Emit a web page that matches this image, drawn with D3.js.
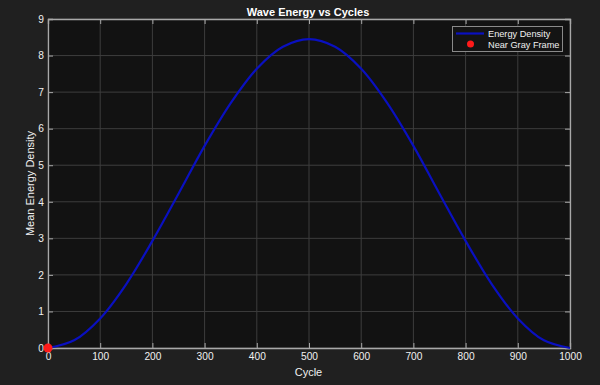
<!DOCTYPE html>
<html><head><meta charset="utf-8">
<script src="https://cdn.jsdelivr.net/npm/d3@7/dist/d3.min.js"></script>
<style>
html,body{margin:0;padding:0;background:#202020;}
svg{display:block;font-family:"Liberation Sans",Arial,Helvetica,sans-serif;}
</style></head>
<body>
<svg id="chart" width="600" height="385"></svg>
<script>
const cycles = [0,50,100,150,200,250,300,350,400,450,500,550,600,650,700,750,800,850,900,950,1000];
const energy = [0,0.21,0.81,1.75,2.93,4.22,5.53,6.70,7.64,8.24,8.45,8.24,7.64,6.70,5.53,4.22,2.93,1.75,0.81,0.21,0];
const xTicks = [0,100,200,300,400,500,600,700,800,900,1000];
const yTicks = [0,1,2,3,4,5,6,7,8,9];
const markerPoint = [{x:0,y:0}];

const svg = d3.select("#chart");
const m = {l:48, r:30, t:19, b:37};
const W = 600, H = 385;
const x = d3.scaleLinear().domain([0,1000]).range([m.l, W-m.r]);
const y = d3.scaleLinear().domain([0,9]).range([H-m.b, m.t]);

svg.append("rect").attr("width",W).attr("height",H).attr("fill","#202020");
svg.append("rect").attr("x",x(0)).attr("y",y(9)).attr("width",x(1000)-x(0)).attr("height",y(0)-y(9)).attr("fill","#121212");

// grid
const g = svg.append("g");
g.selectAll(".vx").data(xTicks).join("line")
  .attr("x1",d=>x(d)).attr("x2",d=>x(d)).attr("y1",y(0)).attr("y2",y(9))
  .attr("stroke","#3d3d3d").attr("stroke-width",1);
g.selectAll(".hy").data(yTicks).join("line")
  .attr("x1",x(0)).attr("x2",x(1000)).attr("y1",d=>y(d)).attr("y2",d=>y(d))
  .attr("stroke","#3d3d3d").attr("stroke-width",1);

// axes
const axCol = "#a8a8a8";
const xb = svg.append("g").attr("transform",`translate(0,${y(0)})`)
  .call(d3.axisBottom(x).tickValues(xTicks).tickSize(-5).tickPadding(5).tickFormat(d3.format("d")));
const xt = svg.append("g").attr("transform",`translate(0,${y(9)})`)
  .call(d3.axisTop(x).tickValues(xTicks).tickSize(-5).tickFormat(""));
const yl = svg.append("g").attr("transform",`translate(${x(0)},0)`)
  .call(d3.axisLeft(y).tickValues(yTicks).tickSize(-5).tickPadding(4).tickFormat(d3.format("d")));
const yr = svg.append("g").attr("transform",`translate(${x(1000)},0)`)
  .call(d3.axisRight(y).tickValues(yTicks).tickSize(-5).tickFormat(""));
[xb,xt,yl,yr].forEach(a=>{
  a.select(".domain").attr("stroke",axCol).attr("stroke-width",1.3);
  a.selectAll(".tick line").attr("stroke",axCol).attr("stroke-width",1);
  a.selectAll("text").attr("fill","#f0f0f0").attr("font-size",10.2).attr("font-family","Liberation Sans, Arial, sans-serif");
});

// line
const line = d3.line().x((d,i)=>x(cycles[i])).y(d=>y(d)).curve(d3.curveCatmullRom);
svg.append("path").datum(energy).attr("d",line)
  .attr("fill","none").attr("stroke","#0a10c0").attr("stroke-width",2.2);

svg.selectAll(".mk").data(markerPoint).join("circle")
  .attr("cx",d=>x(d.x)).attr("cy",d=>y(d.y)).attr("r",4.5).attr("fill","#ff1a1a");

// title & labels
svg.append("text").attr("x",308).attr("y",15.5).attr("text-anchor","middle")
  .attr("fill","#ffffff").attr("font-size",11).attr("font-weight","bold").text("Wave Energy vs Cycles");
svg.append("text").attr("x",308.5).attr("y",376).attr("text-anchor","middle")
  .attr("fill","#f0f0f0").attr("font-size",11).text("Cycle");
svg.append("text").attr("transform",`translate(34,${y(4.5)}) rotate(-90)`).attr("text-anchor","middle")
  .attr("fill","#f0f0f0").attr("font-size",11).text("Mean Energy Density");

// legend
const lg = svg.append("g");
lg.append("rect").attr("x",452.5).attr("y",26.5).attr("width",110).attr("height",25)
  .attr("fill","#141414").attr("stroke","#8a8a8a").attr("stroke-width",1);
lg.append("line").attr("x1",456).attr("x2",484).attr("y1",33.5).attr("y2",33.5)
  .attr("stroke","#0a10c0").attr("stroke-width",2.2);
lg.append("circle").attr("cx",470.5).attr("cy",44).attr("r",3.5).attr("fill","#ff1a1a");
lg.append("text").attr("x",488).attr("y",37).attr("fill","#f0f0f0").attr("font-size",9.2).text("Energy Density");
lg.append("text").attr("x",488).attr("y",47.5).attr("fill","#f0f0f0").attr("font-size",9.2).text("Near Gray Frame");
</script>
</body></html>
